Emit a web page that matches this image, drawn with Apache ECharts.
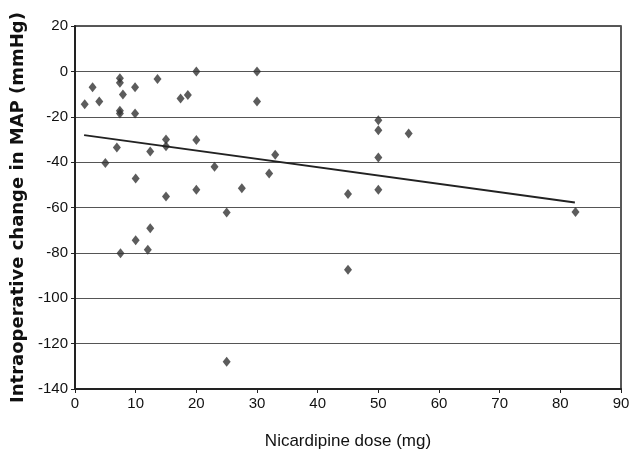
<!DOCTYPE html>
<html>
<head>
    <meta charset="UTF-8">
    <title>Nicardipine dose vs MAP change</title>
    <script src="https://cdn.jsdelivr.net/npm/echarts@6/dist/echarts.min.js"></script>
</head>
<body style="margin:0;">
<div id="main" style="width:630px;height:452px;"></div>
<script type="text/javascript">
    // dose (mg)
    var doses = [1.6, 2.9, 4, 7.4, 7.4, 7.9, 7.4, 7.4, 9.9, 9.9, 13.6, 17.4, 18.6, 20, 30, 30,
        6.9, 5, 10, 12.4, 15, 15, 15, 20, 20, 23, 27.5, 32, 33, 45, 25,
        12.4, 10, 12, 7.5, 45, 25, 50, 50, 55, 50, 50, 82.5];
    // intraoperative change in MAP (mmHg)
    var mapChange = [-14.5, -7, -13.3, -3, -5, -10.2, -17.4, -18.6, -7, -18.6, -3.4, -12, -10.4, 0, 0, -13.3,
        -33.6, -40.4, -47.2, -35.3, -30, -33, -55.2, -30.2, -52.2, -42, -51.5, -45, -36.8, -54, -62.2,
        -69.2, -74.4, -78.6, -80.2, -87.4, -128, -21.5, -25.9, -27.4, -38, -52.2, -62];
    // regression line end points
    var fitX = [1.5, 82.4];
    var fitY = [-28.1, -57.8];

    var points = [];
    for (var i = 0; i < doses.length; i++) {
        points.push([doses[i], mapChange[i]]);
    }
    var fit = [[fitX[0], fitY[0]], [fitX[1], fitY[1]]];

    var font = 'Liberation Sans Narrow, Arial Narrow, Liberation Sans, sans-serif';
    var myEChart = echarts.init(document.getElementById('main'));
    myEChart.setOption({
        backgroundColor: '#fff',
        animation: false,
        grid: {left: 75, right: 9, top: 26, bottom: 63, outerBoundsMode: 'none',
            show: true, borderColor: '#222', borderWidth: 1.5},
        xAxis: {
            type: 'value', min: 0, max: 90, interval: 10,
            name: 'Nicardipine dose (mg)', nameLocation: 'middle', nameGap: 44,
            nameTextStyle: {fontFamily: font, fontSize: 17, color: '#111'},
            axisLine: {onZero: false, lineStyle: {color: '#222', width: 2}},
            axisTick: {show: true, length: 4, lineStyle: {color: '#222'}},
            axisLabel: {fontFamily: font, fontSize: 15, color: '#111', margin: 7},
            splitLine: {show: false}
        },
        yAxis: {
            type: 'value', min: -140, max: 20, interval: 20,
            name: 'Intraoperative change in MAP (mmHg)', nameLocation: 'middle', nameGap: 46,
            nameTextStyle: {fontFamily: 'DejaVu Sans, sans-serif', fontSize: 18, fontWeight: 'bold', color: '#111'},
            axisLine: {show: true, lineStyle: {color: '#222', width: 2}},
            axisTick: {show: true, length: 4, lineStyle: {color: '#222'}},
            axisLabel: {fontFamily: font, fontSize: 15, color: '#111', margin: 7},
            splitLine: {lineStyle: {color: '#555', width: 1.2}}
        },
        series: [{
            type: 'scatter',
            data: points,
            symbol: 'diamond',
            symbolSize: [8, 10],
            itemStyle: {color: '#333'}
        }, {
            type: 'line',
            data: fit,
            symbol: 'none',
            lineStyle: {color: '#222', width: 2}
        }]
    });
</script>
</body>
</html>
